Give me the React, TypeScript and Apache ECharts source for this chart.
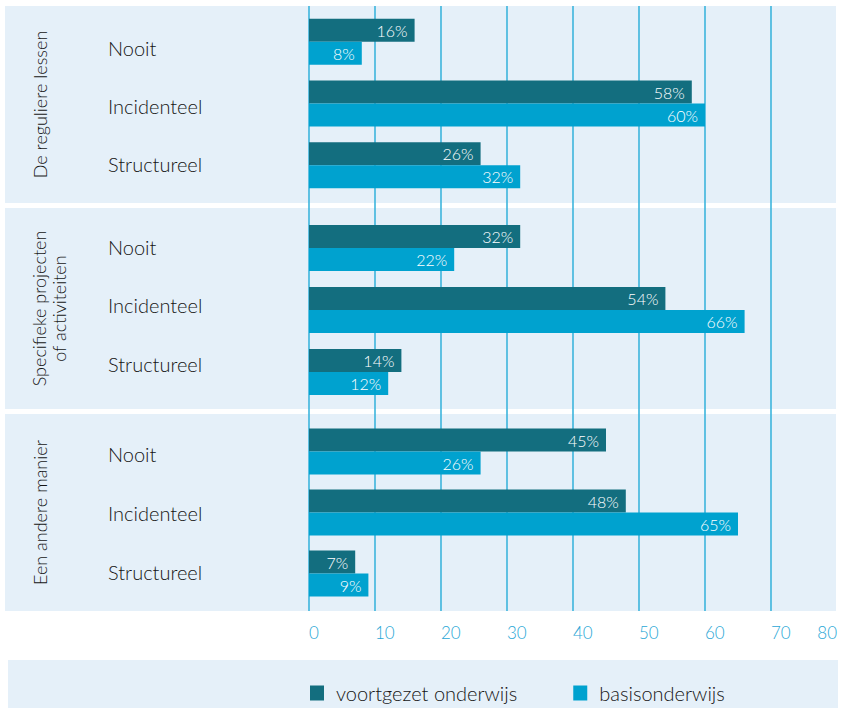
import React, { useEffect, useRef } from "react";
import * as echarts from "echarts";

const CATEGORIES = ["Nooit", "Incidenteel", "Structureel"];
const GROUP_LABELS = ["De reguliere lessen", "Specifieke projecten\nof activiteiten", "Een andere manier"];
const SERIES_NAMES = ["voortgezet onderwijs", "basisonderwijs"];
const VO_REGULIER = [16, 58, 26];
const BO_REGULIER = [8, 60, 32];
const VO_PROJECTEN = [32, 54, 14];
const BO_PROJECTEN = [22, 66, 12];
const VO_ANDERS = [45, 48, 7];
const BO_ANDERS = [26, 65, 9];
const X_MIN = 0;
const X_MAX = 80;
const X_INTERVAL = 10;

const DARK = "#136e7f";
const CYAN = "#00a2cf";
const PANEL = "#e5f0f9";
const LINE = "#3db5dc";
const TEXT = "#151515";
const FONT = "Lato, 'Noto Sans', sans-serif";

export default function App() {
  const ref = useRef<HTMLDivElement>(null);
  useEffect(() => {
    if (!ref.current) return;
    const chart = echarts.init(ref.current, null, { renderer: "svg" });
    const groups = [
      [VO_REGULIER, BO_REGULIER],
      [VO_PROJECTEN, BO_PROJECTEN],
      [VO_ANDERS, BO_ANDERS],
    ];
    const barGridPos = [
      { top: 11, height: 185 },
      { top: 217, height: 186 },
      { top: 421, height: 183 },
    ];
    const labelGridPos = [
      { top: 19, height: 174 },
      { top: 217.5, height: 175.5 },
      { top: 424.5, height: 177 },
    ];
    const panels = [
      { y: 6, h: 197 },
      { y: 208, h: 201 },
      { y: 414, h: 197 },
    ];
    const grids: any[] = [];
    const xAxes: any[] = [];
    const yAxes: any[] = [];
    barGridPos.forEach((g, i) => {
      grids.push({ left: 309, right: 5, top: g.top, height: g.height });
      xAxes.push({ type: "value", gridIndex: i, min: X_MIN, max: X_MAX, interval: X_INTERVAL, show: false });
      yAxes.push({ type: "category", gridIndex: i, data: CATEGORIES, inverse: true, show: false });
    });
    labelGridPos.forEach((g, i) => {
      grids.push({ left: 309, right: 5, top: g.top, height: g.height });
      xAxes.push({ type: "value", gridIndex: 3 + i, min: X_MIN, max: X_MAX, interval: X_INTERVAL, show: false });
      yAxes.push({
        type: "category",
        gridIndex: 3 + i,
        data: CATEGORIES,
        inverse: true,
        axisLine: { show: false },
        axisTick: { show: false },
        splitLine: { show: false },
        axisLabel: {
          color: TEXT,
          fontSize: 20,
          fontWeight: 300,
          fontFamily: FONT,
          align: "left",
          margin: 201,
        },
      });
    });
    grids.push({ left: 309, right: 5, top: 6, bottom: 97 });
    const nLines = (X_MAX - X_MIN) / X_INTERVAL + 1;
    const lineColors = Array.from({ length: nLines }, (_, i) => (i === nLines - 1 ? "rgba(0,0,0,0)" : LINE));
    xAxes.push({
      type: "value",
      gridIndex: 6,
      min: X_MIN,
      max: X_MAX,
      interval: X_INTERVAL,
      axisLine: { show: false },
      axisTick: { show: false },
      splitLine: { show: true, lineStyle: { color: lineColors, width: 1.6 } },
      axisLabel: {
        color: "#2aa7d6",
        fontSize: 17,
        fontWeight: 300,
        fontFamily: FONT,
        align: "left",
        alignMaxLabel: "right",
        margin: 13,
      },
    });
    yAxes.push({ type: "value", gridIndex: 6, show: false });

    const series: any[] = [];
    groups.forEach((pair, gi) => {
      pair.forEach((vals, si) => {
        series.push({
          type: "bar",
          name: SERIES_NAMES[si],
          xAxisIndex: gi,
          yAxisIndex: gi,
          data: vals,
          barWidth: 23,
          barGap: "0%",
          itemStyle: { color: si === 0 ? DARK : CYAN },
          label: {
            show: true,
            position: "insideRight",
            distance: 7,
            color: "#ffffff",
            fontSize: 16,
            fontWeight: 300,
            fontFamily: FONT,
            formatter: "{c}%",
          },
        });
      });
    });
    const graphic: any[] = panels.map((p) => ({
      type: "rect",
      z: -10,
      shape: { x: 5, y: p.y, width: 831, height: p.h },
      style: { fill: PANEL },
      silent: true,
    }));
    graphic.push({
      type: "rect",
      z: -10,
      shape: { x: 8, y: 660, width: 830, height: 48 },
      style: { fill: PANEL },
      silent: true,
    });
    const labelX = [40, 49, 40];
    GROUP_LABELS.forEach((t, i) => {
      graphic.push({
        type: "text",
        x: labelX[i],
        y: panels[i].y + panels[i].h / 2,
        rotation: Math.PI / 2,
        style: {
          text: t,
          fill: TEXT,
          font: `300 18px ${FONT}`,
          align: "center",
          verticalAlign: "middle",
          lineHeight: 20,
        },
      });
    });
    chart.setOption({
      animation: false,
      backgroundColor: "#ffffff",
      grid: grids,
      xAxis: xAxes,
      yAxis: yAxes,
      series,
      graphic,
      legend: {
        data: SERIES_NAMES,
        left: 310,
        top: 683,
        padding: 0,
        icon: "rect",
        itemWidth: 14,
        itemHeight: 15,
        itemGap: 56,
        textStyle: { color: TEXT, fontSize: 20, fontWeight: 300, fontFamily: FONT, padding: [0, 0, 0, 7] },
      },
    });
    return () => chart.dispose();
  }, []);
  return <div ref={ref} style={{ position: "absolute", left: 0, top: 0, width: 842, height: 708 }} />;
}
